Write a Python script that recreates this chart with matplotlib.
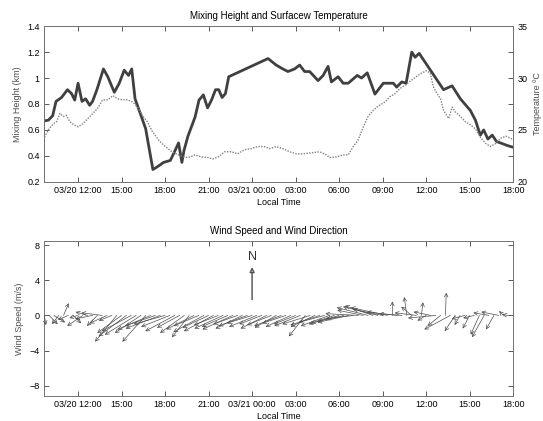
import numpy as np
import matplotlib.pyplot as plt

plt.rcParams['font.family'] = ['Liberation Sans', 'DejaVu Sans']
plt.rcParams['font.size'] = 6.5

# hours counted from 03/20 00:00
mh_time = [9.68, 9.95, 10.25, 10.48, 10.86, 11.27, 11.55, 11.77, 12.0, 12.27, 12.52, 12.8,
           13.0, 13.3, 13.75, 14.05, 14.5, 14.84, 15.18, 15.48, 15.7, 15.93, 16.66, 17.16,
           17.45, 17.9, 18.36, 18.6, 18.93, 19.16, 19.3, 19.57, 20.07, 20.34, 20.64, 20.93,
           21.2, 21.48, 21.7, 21.93, 22.16, 22.39, 25.1, 25.66, 26.12, 26.47, 26.93, 27.28,
           27.62, 27.97, 28.55, 28.9, 29.24, 29.47, 29.93, 30.28, 30.63, 31.25, 31.55, 31.94,
           32.47, 33.05, 33.74, 33.97, 34.32, 34.62, 35.01, 35.24, 35.52, 37.2, 37.79, 38.36,
           39.05, 39.4, 39.74, 39.97, 40.26, 40.56, 40.86, 41.13, 41.6, 42.05]
mixing_height = [0.67, 0.675, 0.71, 0.82, 0.85, 0.91, 0.88, 0.83, 0.96, 0.82, 0.84, 0.79,
                 0.82, 0.91, 1.07, 1.01, 0.89, 0.96, 1.06, 1.02, 1.07, 0.84, 0.61, 0.295,
                 0.315, 0.35, 0.365, 0.42, 0.50, 0.35, 0.44, 0.55, 0.70, 0.83, 0.87, 0.77,
                 0.83, 0.91, 0.91, 0.85, 0.88, 1.01, 1.15, 1.10, 1.07, 1.05, 1.07, 1.10,
                 1.05, 1.05, 0.98, 1.02, 1.09, 0.97, 1.01, 0.96, 0.96, 1.02, 1.0, 1.04,
                 0.876, 0.96, 0.96, 0.93, 0.97, 0.96, 1.20, 1.16, 1.19, 0.91, 0.94, 0.84,
                 0.75, 0.675, 0.56, 0.60, 0.53, 0.56, 0.51, 0.50, 0.48, 0.465]

t_time = [9.68, 9.95, 10.3, 10.52, 10.75, 10.98, 11.2, 11.43, 11.7, 12.0, 12.34, 12.68,
          13.02, 13.36, 13.7, 14.05, 14.4, 14.73, 15.07, 15.4, 15.75, 16.1, 16.43, 16.77,
          17.1, 17.57, 18.02, 18.48, 18.93, 19.4, 19.73, 20.07, 20.5, 20.97, 21.3, 21.66,
          22.11, 22.57, 23.0, 23.48, 23.93, 24.4, 24.84, 25.2, 25.66, 26.12, 26.58, 27.05,
          27.5, 28.1, 28.66, 29.12, 29.35, 29.8, 30.28, 30.63, 30.97, 31.3, 31.67, 32.0,
          32.36, 32.7, 33.17, 33.5, 33.86, 34.2, 34.55, 34.9, 35.24, 35.6, 36.0, 36.28,
          36.5, 36.75, 37.0, 37.2, 37.55, 37.8, 38.0, 38.36, 38.7, 39.05, 39.4, 39.74,
          40.1, 40.44, 40.8, 41.13, 41.5, 41.83, 42.05]
temperature = [24.3, 25.0, 25.6, 25.8, 26.6, 26.3, 26.4, 25.8, 25.5, 25.3, 25.6, 26.1,
               26.6, 27.1, 27.9, 27.9, 28.3, 28.0, 27.9, 27.9, 27.7, 27.2, 26.4, 25.8,
               24.9, 24.0, 23.4, 22.9, 22.6, 22.35, 22.4, 22.6, 22.4, 22.35, 22.2, 22.4,
               22.9, 22.9, 22.7, 23.1, 23.2, 23.4, 23.4, 23.2, 23.4, 23.2, 22.9, 22.7,
               22.7, 22.8, 22.9, 22.6, 22.35, 22.4, 22.6, 22.6, 23.4, 24.0, 25.3, 26.3,
               26.9, 27.3, 27.7, 28.2, 28.5, 29.0, 29.3, 29.7, 30.05, 30.4, 30.7, 30.5,
               29.15, 28.5, 28.0, 26.9, 26.1, 27.2, 26.75, 26.3, 25.8, 25.5, 25.1, 24.3,
               23.7, 23.4, 23.7, 24.2, 24.4, 24.2, 24.0]

# wind vectors (m/s), eastward u and northward v
w_time = [9.67,
          10.0, 10.33, 10.67, 11.0, 11.33, 11.67, 12.0, 12.33, 12.67, 13.0, 13.33, 13.67,
          14.0, 14.33, 14.67, 15.0, 15.33, 15.67, 16.0, 16.33, 16.67, 17.0, 17.33, 17.67,
          18.0, 18.33, 18.67, 19.0, 19.33, 19.67, 20.0, 20.33, 20.67, 21.0, 21.33, 21.67,
          22.0, 22.33, 22.67, 23.0, 23.33, 23.67, 24.0, 24.33, 24.67, 25.0, 25.33, 25.67,
          26.0, 26.33, 26.67, 27.0, 27.33, 27.67, 28.0, 28.33, 28.67, 29.0, 29.33, 29.67,
          30.0, 30.33, 30.67, 31.0, 31.33, 31.67, 32.0, 32.33, 32.67, 33.0, 33.33, 33.67,
          34.0, 34.33, 34.67, 35.0, 35.33, 35.67, 36.0, 36.33, 36.67, 37.0, 37.33, 37.67,
          38.0, 38.33, 38.67, 39.0, 39.33, 39.67, 40.0, 40.33, 40.67, 41.0, 41.33, 41.67]
wind_u = [0.2,
          1.0, 1.3, -0.8, 0.6, -1.2, 0.9, -1.0, -1.8, -1.4, -2.0, -1.2, -2.4,
          -2.0, -1.5, -2.5, -2.8, -3.2, -3.4, -3.6, -3.0, -2.7, -3.8, -3.5, -4.0,
          -3.6, -3.3, -3.4, -2.6, -2.8, -2.0, -3.2, -2.9, -3.5, -3.0, -3.4, -2.8,
          -3.3, -3.0, -3.5, -2.8, -3.1, -3.3, -2.9, -3.2, -2.6, -3.0, -2.8, -2.5,
          -3.1, -2.7, -2.9, -2.5, -3.0, -1.9, -3.2, -2.8, -3.4, -3.0, -3.3, -2.7,
          -3.5, -3.1, -3.6, -3.2, -3.8, -3.0, -3.6, -3.2, -4.0, -3.4, -4.2, 0.0,
          -3.5, -2.6, -0.3, -1.2, -2.5, 0.2, -1.0, -2.0, -3.2, -1.5, 0.1, -3.0,
          -1.2, -0.6, -1.5, -0.8, -1.3, -1.0, -1.4, -1.8, -0.9, -2.0, -0.5, -0.7]
wind_v = [-1.1,
          -1.0, -0.8, -1.0, 1.4, -0.5, -0.9, -0.3, -1.2, 0.4, -0.4, -1.2, 0.3,
          -0.9, -0.6, -3.0, -2.0, -2.4, -1.8, -2.2, -2.0, -3.0, -1.6, -1.2, -1.5,
          -1.0, -1.3, -1.8, -1.4, -2.0, -2.5, -1.6, -1.2, -1.9, -1.4, -1.8, -1.1,
          -1.5, -1.3, -1.6, -1.0, -1.5, -1.2, -0.9, -1.3, -1.0, -1.5, -1.1, -1.4,
          -1.2, -0.9, -1.3, -1.0, -1.2, -2.4, -1.0, -1.3, -1.1, -0.8, -1.2, -0.9,
          -1.0, -0.7, -0.8, -0.4, 0.2, 0.6, 0.9, 1.1, 1.0, 0.7, 0.9, 1.6,
          0.4, 0.2, 2.1, 1.0, 0.3, 1.5, -0.6, 0.4, -0.3, -1.2, 2.6, -1.6,
          -1.8, -1.1, -0.4, -1.5, -0.3, -2.2, -2.5, 0.3, -1.6, 0.4, 0.5, 0.1]

tick_pos = [12, 15, 18, 21, 24, 27, 30, 33, 36, 39, 42]
tick_lbl = ['03/20 12:00', '15:00', '18:00', '21:00', '03/21 00:00', '03:00',
            '06:00', '09:00', '12:00', '15:00', '18:00']

xmin, xmax = 9.65, 42.0
dark = '0.25'

fig = plt.figure(figsize=(5.43, 4.21), dpi=100)
ax1 = fig.add_axes([0.081, 0.568, 0.864, 0.370])
ax3 = fig.add_axes([0.081, 0.059, 0.864, 0.369])


def style_axis(ax):
    ax.set_xlim(xmin, xmax)
    ax.set_xticks(tick_pos)
    ax.set_xticklabels(tick_lbl)
    ax.tick_params(direction='in', length=3.5, width=0.6, colors=dark,
                   labelcolor='black', top=True, pad=3)
    for s in ax.spines.values():
        s.set_color('0.45')
        s.set_linewidth(0.7)
    ax.set_xlabel('Local Time', labelpad=2)


# upper panel: mixing height + temperature
ax1.plot(mh_time, mixing_height, color='0.25', lw=2.0, zorder=3)
ax1.set_ylim(0.2, 1.4)
ax1.set_yticks([0.2, 0.4, 0.6, 0.8, 1.0, 1.2, 1.4])
ax1.set_yticklabels(['0.2', '0.4', '0.6', '0.8', '1', '1.2', '1.4'])
style_axis(ax1)
ax1.set_ylabel('Mixing Height (km)', color='0.3')
ax1.set_title('Mixing Height and Surfacew Temperature', fontsize=7, pad=5)

ax2 = ax1.twinx()
ax2.plot(t_time, temperature, color='0.5', lw=1.0, ls=(0, (1, 1)), zorder=2)
ax2.set_ylim(20, 35)
ax2.set_yticks([20, 22.5, 25, 27.5, 30, 32.5, 35])
ax2.set_yticklabels(['20', '', '25', '', '30', '', '35'])
ax2.tick_params(direction='in', length=3.5, width=0.6, colors=dark, labelcolor='black', pad=3)
for s in ax2.spines.values():
    s.set_color('0.45')
    s.set_linewidth(0.7)
ax2.set_ylabel('Temperature \u00baC', color='0.3')

# lower panel: wind vectors
style_axis(ax3)
ax3.set_ylim(-9.2, 8.5)
ax3.set_yticks([-8, -4, 0, 4, 8])
ax3.tick_params(axis='y', right=True)
ax3.set_ylabel('Wind Speed (m/s)', color='0.3')
ax3.set_title('Wind Speed and Wind Direction', fontsize=7, pad=5)

k = 0.6  # hours of x per m/s, so arrows keep their true direction
for t, u, v in zip(w_time, wind_u, wind_v):
    ax3.annotate('', xy=(t + u * k, v), xytext=(t, 0),
                 arrowprops=dict(arrowstyle='->', color='0.3', lw=0.5,
                                 shrinkA=0, shrinkB=0, mutation_scale=6.5))

ax3.annotate('', xy=(24, 5.5), xytext=(24, 1.8),
             arrowprops=dict(arrowstyle='-|>', fc='white', ec='0.3', lw=1.0,
                             shrinkA=0, shrinkB=0, mutation_scale=7))
ax3.text(24, 6.6, 'N', ha='center', va='center', fontsize=9, color='0.2')

fig.savefig('out.png', dpi=100)
